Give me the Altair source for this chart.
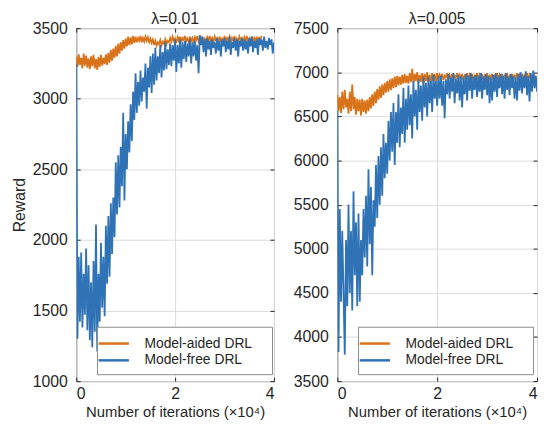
import altair as alt
import pandas as pd

# iteration grid (x 10^4)
iters = [round(i * 0.025, 3) for i in range(161)]
series_names = ["Model-aided DRL", "Model-free DRL"]
panel_titles = ["λ=0.01", "λ=0.005"]
x_ticks = [0, 2, 4]
left_yticks = [1000, 1500, 2000, 2500, 3000, 3500]
right_yticks = [3500, 4000, 4500, 5000, 5500, 6000, 6500, 7000, 7500]

# ---- lambda = 0.01 ----
left_aided = [
    3300, 3225, 3315, 3240, 3290, 3215, 3320, 3235, 3305, 3220, 3285, 3210, 3300, 3230, 3310, 3215, 3280, 3205, 3295, 3225, 3310, 3235, 3290, 3245,
    3315, 3240, 3325, 3255, 3345, 3270, 3355, 3290, 3375, 3300, 3390, 3320, 3400, 3340, 3415, 3355, 3425, 3370, 3440, 3380, 3435, 3385, 3445, 3395,
    3440, 3400, 3430, 3410, 3445, 3400, 3430, 3405, 3440, 3410, 3435, 3400, 3425, 3395, 3420,
    3380, 3410, 3375, 3400, 3385, 3415, 3380, 3405, 3390, 3420, 3385, 3410,
    3400, 3430, 3405, 3440, 3410, 3425, 3395, 3435, 3410, 3440,
    3400, 3430, 3415, 3445, 3405, 3425, 3400, 3440, 3410, 3430,
    3395, 3435, 3415, 3445, 3405, 3430, 3400, 3440, 3410, 3425,
    3400, 3435, 3410, 3445, 3405, 3430, 3395, 3440, 3415, 3430,
    3400, 3440, 3410, 3425, 3405, 3445, 3400, 3430, 3415, 3440,
    3395, 3430, 3410, 3445, 3405, 3425, 3400, 3440, 3415, 3430,
    3400, 3435, 3410, 3445, 3405, 3425, 3395, 3440, 3410, 3430,
    3405, 3440, 3400, 3430, 3415, 3445,
]
left_free = [
    3250, 1300, 1880, 1420, 1910, 1380, 1760, 1470, 1940, 1360,
    1820, 1290, 1700, 1240, 1850, 1350, 2110, 1210, 1760, 1420,
    1980, 1520, 1880, 1460, 2100, 1690, 2170, 1740, 2260, 1900,
    2300, 2020, 2550, 2180, 2600, 2230, 2660, 2380, 2900, 2280,
    2750, 2500, 2840, 2620, 2960, 2700, 3050, 2850, 3180, 2900,
    3120, 2950, 3200, 2980, 3150, 3050, 3250, 2930, 3220, 3080,
    3300, 3040, 3320, 3100, 3360, 3130, 3300, 3180, 3380, 3150,
    3330, 3200, 3400, 3210, 3350, 3240, 3390, 3230, 3380, 3270,
    3420, 3190, 3380, 3250, 3420, 3220, 3400, 3280, 3410, 3260,
    3390, 3300, 3420, 3250, 3400, 3300, 3410, 3270, 3380, 3180,
    3450, 3380, 3440, 3330, 3420, 3300, 3430, 3350, 3410, 3310,
    3420, 3360, 3400, 3320, 3430, 3340, 3410, 3300, 3420, 3370,
    3430, 3330, 3410, 3350, 3440, 3310, 3400, 3360, 3430, 3340,
    3420, 3300, 3410, 3370, 3430, 3340, 3420, 3350, 3410, 3320,
    3430, 3370, 3440, 3330, 3410, 3360, 3420, 3310, 3430, 3380,
    3420, 3340, 3440, 3360, 3410, 3350, 3430, 3380, 3420, 3320,
    3400,
]

# ---- lambda = 0.005 ----
right_aided = [
    6740, 6560, 6720, 6540, 6780, 6580, 6800, 6600, 6700, 6530, 6780, 6560, 6860, 6580, 6720, 6520, 6700, 6560, 6690, 6510, 6700, 6550, 6680, 6530,
    6690, 6560, 6720, 6590, 6750, 6620, 6780, 6650, 6810, 6690, 6840, 6710, 6860, 6740, 6880, 6770, 6900, 6780, 6920, 6800, 6930, 6820, 6950, 6830, 6960, 6850, 6950, 6860,
    6970, 6870, 6980, 6880, 6960, 6870, 6990, 6890, 7040, 6880, 6980, 6900, 7000, 6880, 6970, 6890, 6990, 6870, 6980, 6900, 7000, 6890, 6970, 6880, 6990, 6900, 6980, 6890, 6990,
    6920, 6970, 6930, 6980, 6910, 6960, 6940, 6990, 6920, 6970,
    6930, 6980, 6910, 6960, 6940, 6990, 6920, 6970, 6930, 6980,
    6910, 6960, 6940, 6990, 6920, 6970, 6930, 6980, 6910, 6960,
    6940, 6990, 6920, 6970, 6930, 6980, 6910, 6960, 6940, 6990,
    6860, 6970, 6930, 6980, 6910, 6960, 6940, 6990, 6920, 6970,
    6930, 6980, 6910, 6960, 6940, 6990, 6870, 6970, 6930, 6980,
    6910, 6960, 6940, 6990, 6920, 6970, 6930, 6980, 6910, 6960,
    6940, 6990, 6920, 6970, 6930, 6960, 6910, 6960, 6940, 6900,
]
right_free = [
    6560, 3830, 5450, 4400, 5200, 4500, 3800, 5100, 4350, 5500,
    4500, 5200, 4300, 5650, 4700, 5300, 4350, 5400, 4400, 5100,
    4700, 5450, 4900, 5600, 4800, 5900, 5050, 5700, 4700, 5550,
    5250, 5950, 5350, 6050, 5500, 6150, 5600, 6300, 5800, 6200,
    5850, 6450, 6000, 6550, 6100, 6650, 5950, 6550, 6200, 6750,
    6150, 6600, 6300, 6820, 6200, 6700, 6350, 6850, 6400, 6750,
    6250, 6900, 6500, 6800, 6350, 6920, 6550, 6850, 6450, 6950,
    6600, 6880, 6500, 6950, 6650, 6900, 6550, 6970, 6700, 6900,
    6620, 6950, 6700, 6960, 6620, 6900, 6480, 6920, 6750, 6980,
    6700, 6940, 6780, 6990, 6650, 6930, 6760, 6970, 6680, 6950,
    6600, 6940, 6750, 6980, 6680, 6960, 6790, 6990, 6700, 6950,
    6800, 6970, 6720, 6960, 6780, 6990, 6700, 6950, 6800, 6980,
    6740, 6960, 6650, 6940, 6680, 6970, 6780, 6990, 6720, 6950,
    6820, 6980, 6750, 6960, 6700, 6990, 6800, 6950, 6740, 6980,
    6820, 6960, 6700, 6940, 6680, 6980, 6790, 7000, 6760, 6960,
    6820, 7010, 6740, 6950, 6670, 6990, 6780, 7020, 6820, 6960,
    6780,
]

FONT = "Liberation Sans"
INK = "#262626"
COLORS = ["#D9731A", "#2F72B5"]


def make_df(aided, free):
    rows = []
    for name, vals in zip(series_names, [aided, free]):
        for x, v in zip(iters, vals):
            rows.append({"x": x, "reward": v, "series": name})
    return pd.DataFrame(rows)


def panel(df, title, ydom, yticks, width, show_ytitle):
    xscale = alt.Scale(domain=[0, 4], nice=False)
    yscale = alt.Scale(domain=ydom, nice=False, zero=False)
    lines = alt.Chart(df).mark_line(strokeWidth=1.8, clip=True).encode(
        x=alt.X("x:Q", scale=xscale,
                axis=alt.Axis(values=x_ticks, title="Number of iterations (×10⁴)", format="d",
                              offset=-4, ticks=True, tickSize=4, domain=False)),
        y=alt.Y("reward:Q", scale=yscale,
                axis=alt.Axis(values=yticks, title="Reward" if show_ytitle else None, format="d",
                              offset=-4, ticks=True, tickSize=4, domain=False)),
        color=alt.Color("series:N",
                        scale=alt.Scale(domain=series_names, range=COLORS),
                        legend=alt.Legend(orient="none", legendX=21, legendY=302, title=None,
                                          fillColor="white", strokeColor="#8c8c8c",
                                          padding=7, symbolType="M-1.8,0H1.8", symbolSize=289,
                                          symbolStrokeWidth=2.5, labelFontSize=14,
                                          labelFont=FONT, labelColor=INK, rowPadding=0,
                                          labelOffset=21, labelLimit=300,
                                          labelExpr="datum.label + '\u2009\u2800'")),
        order=alt.Order("x:Q"),
        detail="series:N",
    )
    frame_ticks = alt.Chart(df).mark_line(strokeOpacity=0).encode(
        x=alt.X("x:Q", scale=xscale,
                axis=alt.Axis(orient="top", values=x_ticks, labels=False, domain=False, grid=False,
                              ticks=True, tickSize=4, offset=-4, title=None)),
        y=alt.Y("reward:Q", scale=yscale,
                axis=alt.Axis(orient="right", values=yticks, labels=False, domain=False, grid=False,
                              ticks=True, tickSize=4, offset=-4, title=None)),
        detail="series:N",
    )
    return alt.layer(lines, frame_ticks).resolve_axis(x="independent", y="independent").properties(
        width=width, height=357,
        title=alt.TitleParams(title, fontSize=16, fontWeight="normal", font=FONT,
                              color=INK, offset=-7),
    )


left = panel(make_df(left_aided, left_free), panel_titles[0], [1000, 3500], left_yticks, 200, True)
right = panel(make_df(right_aided, right_free), panel_titles[1], [3500, 7500], right_yticks, 202, False)

chart = alt.hconcat(left, right, spacing=17).resolve_scale(
    color="independent", y="independent", x="independent"
).resolve_legend(color="independent").properties(
    padding={"left": 2, "top": 0, "right": 0, "bottom": 0}
).configure_view(
    stroke=INK, strokeWidth=1
).configure_axis(
    labelFont=FONT, titleFont=FONT, labelFontSize=16, titleFontSize=15,
    labelColor=INK, titleColor=INK, titleFontWeight="normal",
    tickColor=INK, gridColor="#DCDCDC", grid=True,
    labelPadding=9,
).configure_axisX(
    labelPadding=5, titlePadding=3
).configure_axisY(
    titlePadding=5, titleFontSize=16
)

chart.save("out.html", embed_options={"renderer": "svg", "actions": False})
